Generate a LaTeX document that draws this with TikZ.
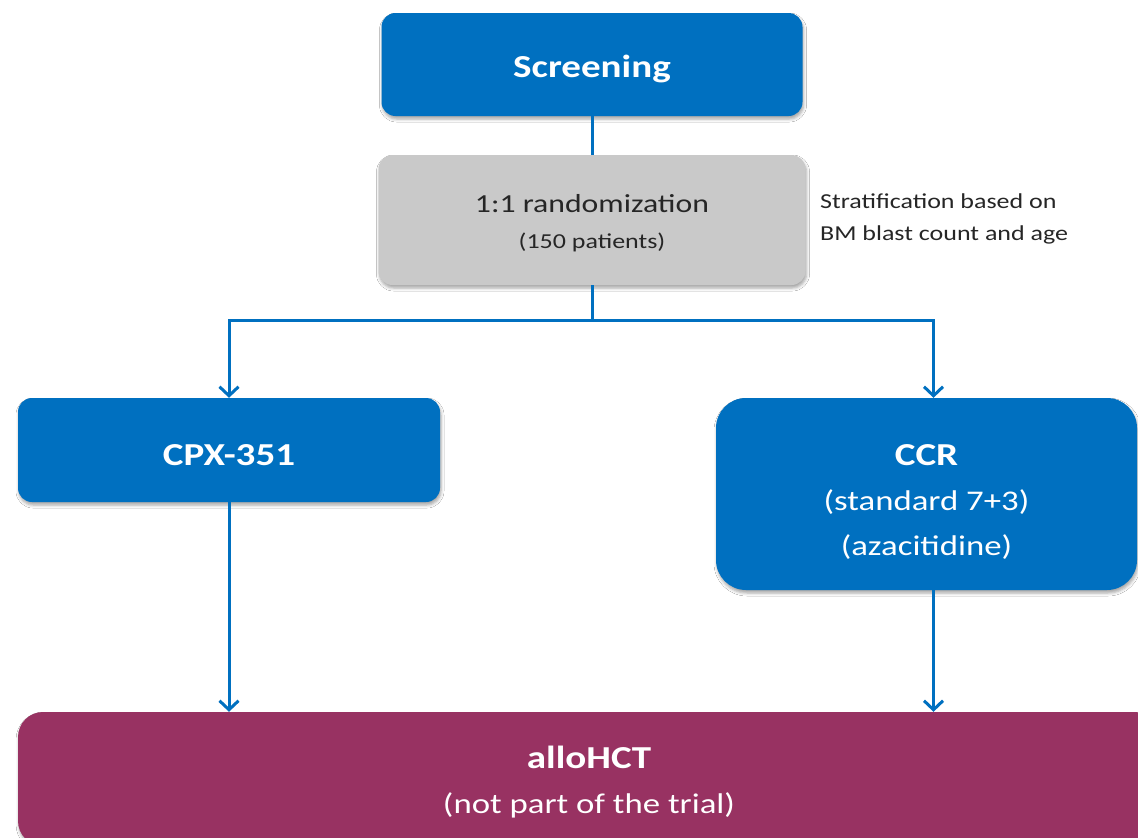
\documentclass[tikz,border=0pt]{standalone}
\usepackage{fontspec}
\setmainfont{Carlito}[FakeStretch=1.22]
\usetikzlibrary{arrows.meta,shadows.blur}
\definecolor{trialblue}{HTML}{0070C0}
\definecolor{randgray}{HTML}{C9C9C9}
\definecolor{allopurple}{HTML}{983262}
\definecolor{darktext}{HTML}{262626}
\newcommand\ttlfont{\fontsize{32}{38}\selectfont\bfseries}
% invisible strut that lifts the top of a text block
\newcommand\topstrut[1]{\rule{0pt}{#1}}
\begin{document}
\begin{tikzpicture}[x=1pt,y=-1pt,
  box/.style={rounded corners=14pt, inner sep=0pt, align=center,
    blur shadow={shadow xshift=1pt, shadow yshift=-3pt, shadow opacity=35, shadow blur radius=3pt}},
  bluebox/.style={box, fill=trialblue, text=white},
  link/.style={draw=trialblue, line width=3pt},
  arr/.style={link, -{Straight Barb[length=9pt,width=19pt,line width=3pt]}}
]
\useasboundingbox (0,0) rectangle (1138,838);
\fill[white] (0,0) rectangle (1138,838);
\clip (0,0) rectangle (1138,838);

% boxes
\node[bluebox, minimum width=421pt, minimum height=103pt, font=\ttlfont] (screen) at (592,64.5)
  {\topstrut{32pt}Screening};
\node[box, fill=randgray, text=darktext, minimum width=427pt, minimum height=130pt,
      font={\fontsize{21.3}{36}\selectfont}] (rand) at (592,220)
  {\topstrut{24pt}{\fontsize{26}{36}\selectfont 1:1 randomization}\\(150 patients)};
\node[anchor=north west, align=left, text=darktext, inner sep=0pt,
      font={\fontsize{21.3}{32}\selectfont}] (strat) at (820,194)
  {Stratification based on\\BM blast count and age};
\node[bluebox, minimum width=422pt, minimum height=104pt, font=\ttlfont] (cpx) at (229,450)
  {\topstrut{32pt}CPX-351};
\node[bluebox, rounded corners=30pt, minimum width=421pt, minimum height=192pt,
      font={\fontsize{28.5}{45}\selectfont}] (ccr) at (926.5,494)
  {\topstrut{37pt}{\ttlfont CCR}\\(standard 7+3)\\(azacitidine)};
\node[box, rounded corners=25pt, fill=allopurple, text=white, minimum width=1142pt, minimum height=134pt,
      font={\fontsize{28.5}{45}\selectfont}] (allo) at (589,779)
  {\topstrut{29pt}{\ttlfont alloHCT}\\(not part of the trial)};

% connectors
\coordinate (split) at (592,320);
\draw[link] (screen.south) -- (rand.north);
\draw[link] (rand.south) -- (split);
\draw[arr] (split) -| (cpx.north);
\draw[arr] (split) -| ([xshift=7pt]ccr.north);
\draw[arr] (cpx.south) -- (cpx.south |- allo.north);
\draw[arr] ([xshift=7pt]ccr.south) -- ([xshift=7pt]ccr.south |- allo.north);
\end{tikzpicture}
\end{document}
